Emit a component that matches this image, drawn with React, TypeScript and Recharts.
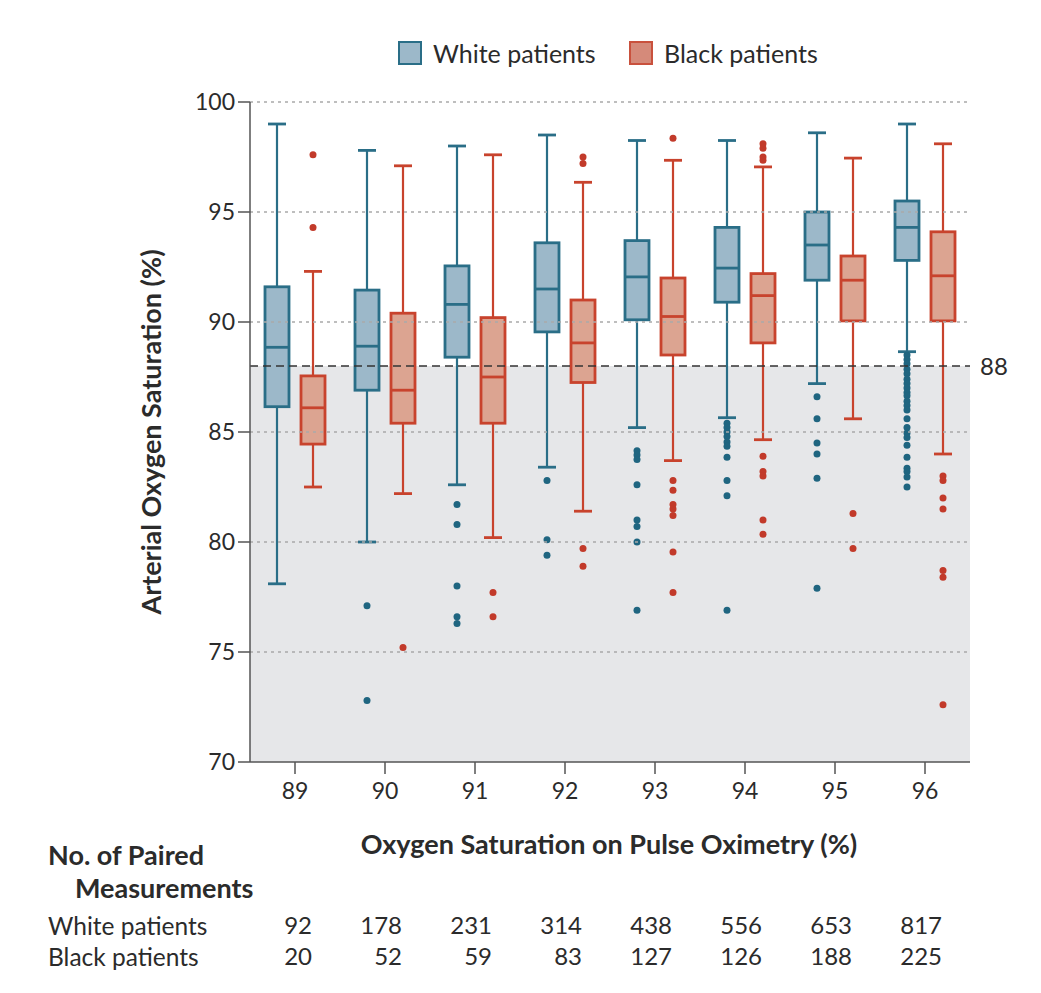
import React from "react";
import {
  ComposedChart,
  Bar,
  XAxis,
  YAxis,
  ReferenceArea,
  ReferenceLine,
} from "recharts";

// Pulse oximetry categories (x axis)
const categories = ["89", "90", "91", "92", "93", "94", "95", "96"];

// White patients - box plot statistics (arterial SaO2, %)
const whiteMin = [78.1, 80.0, 82.6, 83.4, 85.2, 85.65, 87.2, 88.65];
const whiteQ1 = [86.15, 86.9, 88.4, 89.55, 90.1, 90.9, 91.9, 92.8];
const whiteMedian = [88.85, 88.9, 90.8, 91.5, 92.05, 92.45, 93.5, 94.3];
const whiteQ3 = [91.6, 91.45, 92.55, 93.6, 93.7, 94.3, 95.0, 95.5];
const whiteMax = [99.0, 97.8, 98.0, 98.5, 98.25, 98.25, 98.6, 99.0];
const whiteOutliers = [
  [],
  [77.1, 72.8],
  [81.7, 80.8, 78.0, 76.6, 76.3],
  [82.8, 80.1, 79.4],
  [84.15, 83.95, 83.75, 82.6, 81.0, 80.7, 80.0, 76.9],
  [85.4, 85.2, 85.0, 84.8, 84.55, 84.35, 83.85, 82.8, 82.1, 76.9],
  [86.6, 85.6, 84.5, 84.0, 82.9, 77.9],
  [
    88.5, 88.3, 88.1, 87.85, 87.65, 87.4, 87.2, 87.0, 86.8, 86.65, 86.4, 86.2,
    86.0, 85.6, 85.2, 84.95, 84.75, 84.4, 83.85, 83.35, 83.2, 82.95, 82.5,
  ],
];

// Black patients - box plot statistics
const blackMin = [82.5, 82.2, 80.2, 81.4, 83.7, 84.65, 85.6, 84.0];
const blackQ1 = [84.45, 85.4, 85.4, 87.25, 88.5, 89.05, 90.05, 90.05];
const blackMedian = [86.1, 86.9, 87.5, 89.05, 90.25, 91.2, 91.9, 92.1];
const blackQ3 = [87.55, 90.4, 90.2, 91.0, 92.0, 92.2, 93.0, 94.1];
const blackMax = [92.3, 97.1, 97.6, 96.35, 97.35, 97.05, 97.45, 98.1];
const blackOutliers = [
  [97.6, 94.3],
  [75.2],
  [77.7, 76.6],
  [97.5, 97.2, 79.7, 78.9],
  [98.35, 82.8, 82.35, 81.7, 81.5, 81.2, 79.55, 77.7],
  [98.1, 97.9, 97.5, 97.35, 83.9, 83.2, 83.0, 81.0, 80.35],
  [81.3, 79.7],
  [83.0, 82.8, 82.0, 81.5, 78.7, 78.4, 72.6],
];

// No. of paired measurements
const whiteCounts = [92, 178, 231, 314, 438, 556, 653, 817];
const blackCounts = [20, 52, 59, 83, 127, 126, 188, 225];

const yTicks = [70, 75, 80, 85, 90, 95, 100];
const gridValues = [75, 80, 85, 90, 95, 100];
const threshold = 88;

const FONT = "Lato, 'Open Sans', sans-serif";
const TEXT = "#2b2b2b";
const AXIS = "#555";

const BLUE_STROKE = "#2a6e87";
const BLUE_FILL = "#9cb8c9";
const BLUE_DOT = "#1f6580";
const RED_STROKE = "#c8432d";
const RED_FILL = "#dca491";
const RED_DOT = "#c23a2a";

const data = categories.map((cat, i) => ({
  cat,
  wRange: [whiteMin[i], whiteMax[i]],
  bRange: [blackMin[i], blackMax[i]],
  w: {
    min: whiteMin[i],
    q1: whiteQ1[i],
    med: whiteMedian[i],
    q3: whiteQ3[i],
    max: whiteMax[i],
    out: whiteOutliers[i],
  },
  b: {
    min: blackMin[i],
    q1: blackQ1[i],
    med: blackMedian[i],
    q3: blackQ3[i],
    max: blackMax[i],
    out: blackOutliers[i],
  },
}));

// Box shape drawn inside the range bar; values are mapped with the bar's own extent
const makeBoxShape =
  (key: "w" | "b", stroke: string, fill: string, dot: string) =>
  (props: any) => {
    const { x, y, width, height, payload } = props;
    const s = payload[key];
    const top = Math.min(y, y + height);
    const bottom = Math.max(y, y + height);
    const toY = (v: number) =>
      bottom - ((v - s.min) / (s.max - s.min)) * (bottom - top);
    const cx = x + width / 2;
    const cap = 9;
    return (
      <g>
        <line x1={cx} x2={cx} y1={toY(s.max)} y2={toY(s.q3)} stroke={stroke} strokeWidth={2.2} />
        <line x1={cx} x2={cx} y1={toY(s.q1)} y2={toY(s.min)} stroke={stroke} strokeWidth={2.2} />
        <line x1={cx - cap} x2={cx + cap} y1={toY(s.max)} y2={toY(s.max)} stroke={stroke} strokeWidth={2.8} />
        <line x1={cx - cap} x2={cx + cap} y1={toY(s.min)} y2={toY(s.min)} stroke={stroke} strokeWidth={2.8} />
        <rect
          x={x}
          y={toY(s.q3)}
          width={width}
          height={toY(s.q1) - toY(s.q3)}
          fill={fill}
          stroke={stroke}
          strokeWidth={2.8}
        />
        <line x1={x} x2={x + width} y1={toY(s.med)} y2={toY(s.med)} stroke={stroke} strokeWidth={2.8} />
        {s.out.map((v: number, j: number) => (
          <circle key={j} cx={cx} cy={toY(v)} r={3.5} fill={dot} />
        ))}
      </g>
    );
  };

const CategoryTick = (props: any) => {
  const { x, y, payload } = props;
  const i = categories.indexOf(String(payload.value));
  return (
    <g fontFamily={FONT} fill={TEXT}>
      <text x={x} y={y + 23} textAnchor="middle" fontSize={23}>
        {payload.value}
      </text>
      <text x={x + 17} y={y + 158} textAnchor="end" fontSize={24}>
        {whiteCounts[i]}
      </text>
      <text x={x + 17} y={y + 189} textAnchor="end" fontSize={24}>
        {blackCounts[i]}
      </text>
    </g>
  );
};

const LegendItem = ({ left, stroke, fill, label }: any) => (
  <div
    style={{
      position: "absolute",
      left,
      top: 38,
      display: "flex",
      alignItems: "center",
      gap: 11,
    }}
  >
    <div
      style={{
        width: 20,
        height: 20,
        background: fill,
        border: `2px solid ${stroke}`,
      }}
    />
    <span style={{ fontSize: 25, color: TEXT }}>{label}</span>
  </div>
);

export default function App() {
  return (
    <div
      style={{
        position: "absolute",
        left: 0,
        top: 0,
        width: 1041,
        height: 993,
        background: "#fff",
        fontFamily: FONT,
        color: TEXT,
      }}
    >
      <LegendItem left={398} stroke={BLUE_STROKE} fill={BLUE_FILL} label="White patients" />
      <LegendItem left={629} stroke="#c9513d" fill="#d58a7a" label="Black patients" />

      <div style={{ position: "absolute", left: 0, top: 0 }}>
        <ComposedChart
          width={1041}
          height={993}
          data={data}
          margin={{ top: 102, right: 71, left: 190, bottom: 191 }}
          barSize={24}
          barGap={12}
        >
          <XAxis
            dataKey="cat"
            height={40}
            axisLine={{ stroke: AXIS, strokeWidth: 1.5 }}
            tickLine={{ stroke: AXIS, strokeWidth: 1.5 }}
            tickSize={12}
            tick={<CategoryTick />}
            interval={0}
          />
          <YAxis
            type="number"
            domain={[70, 100]}
            ticks={yTicks}
            width={60}
            allowDataOverflow
            axisLine={{ stroke: AXIS, strokeWidth: 1.5 }}
            tickLine={{ stroke: AXIS, strokeWidth: 1.5 }}
            tickSize={12}
            tickMargin={3}
            tick={{ fontSize: 23, fill: TEXT, fontFamily: FONT }}
          />
          <ReferenceArea y1={70} y2={threshold} fill="#e6e7e9" fillOpacity={1} stroke="none" />
          {gridValues.map((v) => (
            <ReferenceLine
              key={v}
              y={v}
              stroke="#a9a9a9"
              strokeWidth={1.5}
              strokeDasharray="3 4"
            />
          ))}
          <ReferenceLine
            y={threshold}
            stroke="#333"
            strokeWidth={1.6}
            strokeDasharray="8 5"
            label={{
              value: String(threshold),
              position: "right",
              offset: 10,
              fill: TEXT,
              fontSize: 24,
              fontFamily: FONT,
            }}
          />
          <Bar
            dataKey="wRange"
            isAnimationActive={false}
            shape={makeBoxShape("w", BLUE_STROKE, BLUE_FILL, BLUE_DOT)}
          />
          <Bar
            dataKey="bRange"
            isAnimationActive={false}
            shape={makeBoxShape("b", RED_STROKE, RED_FILL, RED_DOT)}
          />
        </ComposedChart>
      </div>

      <div
        style={{
          position: "absolute",
          left: 150,
          top: 432,
          transform: "translate(-50%, -50%) rotate(-90deg)",
          whiteSpace: "nowrap",
          fontSize: 27,
          fontWeight: 700,
        }}
      >
        Arterial Oxygen Saturation (%)
      </div>
      <div
        style={{
          position: "absolute",
          left: 609,
          top: 843,
          transform: "translate(-50%, -50%)",
          whiteSpace: "nowrap",
          fontSize: 27,
          fontWeight: 700,
        }}
      >
        Oxygen Saturation on Pulse Oximetry (%)
      </div>
      <div style={{ position: "absolute", left: 48, top: 838, fontSize: 27, fontWeight: 700, lineHeight: "33px" }}>
        No. of Paired
        <div style={{ paddingLeft: 27 }}>Measurements</div>
      </div>
      <div style={{ position: "absolute", left: 48, top: 910, fontSize: 24.5, lineHeight: "31px" }}>
        <div>White patients</div>
        <div>Black patients</div>
      </div>
    </div>
  );
}
